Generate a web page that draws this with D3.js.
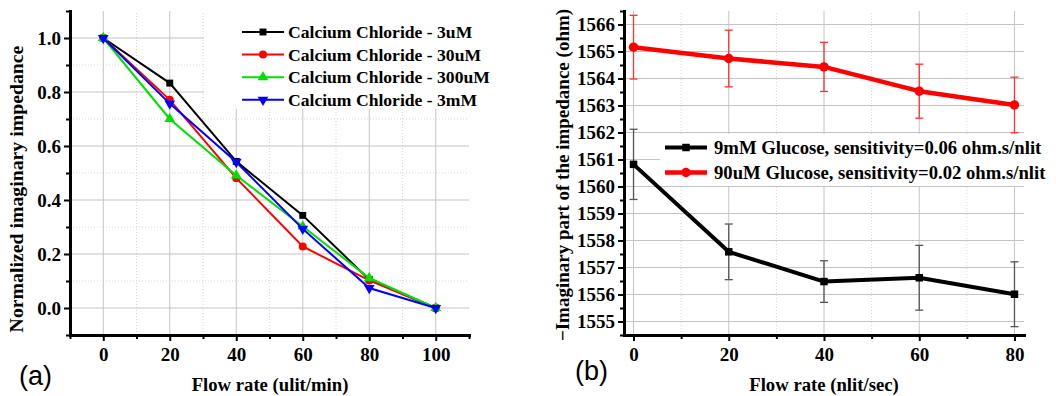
<!DOCTYPE html>
<html>
<head>
<meta charset="utf-8">
<script src="https://cdn.jsdelivr.net/npm/d3@7"></script>
<style>
  body { margin: 0; background: #fff; }
  svg { display: block; }
  text { font-family: "Liberation Serif", "Times New Roman", serif; font-weight: bold; fill: #000; }
  .panel-label { font-family: "Liberation Sans", Arial, sans-serif; font-weight: normal; }
  .grid-major { stroke: #c4c4c4; stroke-width: 1; }
  .grid-minor { stroke: #d6d6d6; stroke-width: 1; stroke-dasharray: 1,2; }
</style>
</head>
<body>
<div class="chart"></div>
<script>
// ---- data, panel (a) ----
const flowA = [0, 20, 40, 60, 80, 100];
const cacl3uM   = [1.0, 0.833, 0.543, 0.343, 0.105, 0.0];
const cacl30uM  = [1.0, 0.771, 0.481, 0.228, 0.102, 0.0];
const cacl300uM = [1.0, 0.700, 0.491, 0.302, 0.111, 0.0];
const cacl3mM   = [1.0, 0.757, 0.541, 0.293, 0.074, 0.0];
const namesA = ['Calcium Chloride - 3uM', 'Calcium Chloride - 30uM', 'Calcium Chloride - 300uM', 'Calcium Chloride - 3mM'];
const xTicksA = [0, 20, 40, 60, 80, 100];
const yTicksA = [0.0, 0.2, 0.4, 0.6, 0.8, 1.0];

// ---- data, panel (b) ----
const flowB = [0, 20, 40, 60, 80];
const glucose9mM     = [1560.82, 1557.58, 1556.48, 1556.62, 1556.01];
const glucose9mMErr  = [1.30, 1.03, 0.77, 1.20, 1.20];
const glucose90uM    = [1565.16, 1564.74, 1564.43, 1563.53, 1563.02];
const glucose90uMErr = [1.18, 1.05, 0.91, 1.00, 1.03];
const namesB = ['9mM Glucose, sensitivity=0.06 ohm.s/nlit', '90uM Glucose, sensitivity=0.02 ohm.s/nlit'];
const xTicksB = [0, 20, 40, 60, 80];
const yTicksB = [1555, 1556, 1557, 1558, 1559, 1560, 1561, 1562, 1563, 1564, 1565, 1566];

const svg = d3.select('.chart')
  .append('svg')
  .attr('width', 1056)
  .attr('height', 396);

const xA = d3.scaleLinear().domain([-10, 110]).range([70, 469]);
const yA = d3.scaleLinear().domain([-0.1, 1.1]).range([335, 11]);
const xB = d3.scaleLinear().domain([-2, 82]).range([624, 1024]);
const yB = d3.scaleLinear().domain([1554.5, 1566.5]).range([335, 11]);

// grid lines for one panel
function grid(x, y, xMaj, xMin, yMaj, yMin) {
  const g = svg.append('g');
  const [x0, x1] = x.range();
  const [y0, y1] = y.range();
  g.selectAll('.vmin').data(xMin).join('line').attr('class', 'grid-minor')
    .attr('x1', d => x(d)).attr('x2', d => x(d)).attr('y1', y0).attr('y2', y1);
  g.selectAll('.hmin').data(yMin).join('line').attr('class', 'grid-minor')
    .attr('y1', d => y(d)).attr('y2', d => y(d)).attr('x1', x0).attr('x2', x1);
  g.selectAll('.vmaj').data(xMaj).join('line').attr('class', 'grid-major')
    .attr('x1', d => x(d)).attr('x2', d => x(d)).attr('y1', y0).attr('y2', y1);
  g.selectAll('.hmaj').data(yMaj).join('line').attr('class', 'grid-major')
    .attr('y1', d => y(d)).attr('y2', d => y(d)).attr('x1', x0).attr('x2', x1);
}

// axes with major + minor ticks
function axes(x, y, xMaj, xMin, yMaj, yMin, yFmt) {
  const yBase = y.range()[0];
  const xBase = x.range()[0];

  const gx = svg.append('g').attr('transform', `translate(0,${yBase})`);
  gx.append('g').call(d3.axisBottom(x).tickValues(xMin).tickSize(4).tickSizeOuter(0).tickFormat(''));
  gx.append('g').call(d3.axisBottom(x).tickValues(xMaj).tickSize(6).tickSizeOuter(0).tickPadding(7).tickFormat(d3.format('d')));

  const gy = svg.append('g').attr('transform', `translate(${xBase},0)`);
  gy.append('g').call(d3.axisLeft(y).tickValues(yMin).tickSize(4).tickSizeOuter(0).tickFormat(''));
  gy.append('g').call(d3.axisLeft(y).tickValues(yMaj).tickSize(6).tickSizeOuter(0).tickPadding(3).tickFormat(yFmt));

  svg.selectAll('.domain').style('stroke-width', 3).style('stroke-linecap', 'square');
  svg.selectAll('.tick line').style('stroke-width', 2);
  svg.selectAll('.tick text').style('font-size', '19px').style('font-family', '"Liberation Serif", "Times New Roman", serif');
}

// markers
function marker(sel, type, size, color) {
  const sym = {
    square: d3.symbolSquare,
    circle: d3.symbolCircle,
    up: d3.symbolTriangle
  };
  if (type === 'down') {
    sel.append('path').attr('d', d3.symbol(d3.symbolTriangle, size)()).attr('transform', 'rotate(180)')
      .style('fill', color);
  } else {
    sel.append('path').attr('d', d3.symbol(sym[type], size)()).style('fill', color);
  }
}

// ================= panel (a) =================
grid(xA, yA, xTicksA, [10, 30, 50, 70, 90], yTicksA, [0.1, 0.3, 0.5, 0.7, 0.9]);

const seriesA = [
  { name: namesA[0], values: cacl3uM,   color: '#000000', shape: 'square', size: 48 },
  { name: namesA[1], values: cacl30uM,  color: '#ff0000', shape: 'circle', size: 50 },
  { name: namesA[2], values: cacl300uM, color: '#00e000', shape: 'up',     size: 50 },
  { name: namesA[3], values: cacl3mM,   color: '#0000ff', shape: 'down',   size: 50 }
];

// legend box covers the grid
svg.append('rect').attr('x', 204).attr('y', 11).attr('width', 265).attr('height', 98).style('fill', '#fff');

const lineA = d3.line().x((d, i) => xA(flowA[i])).y(d => yA(d));
seriesA.forEach(s => {
  svg.append('path').datum(s.values).attr('d', lineA)
    .style('fill', 'none').style('stroke', s.color).style('stroke-width', 2);
  s.values.forEach((v, i) => {
    const g = svg.append('g').attr('transform', `translate(${xA(flowA[i])},${yA(v)})`);
    marker(g, s.shape, s.size, s.color);
  });
});

// legend (a)
seriesA.forEach((s, i) => {
  const ly = 32 + i * 22.6;
  svg.append('line').attr('x1', 242).attr('x2', 284).attr('y1', ly).attr('y2', ly)
    .style('stroke', s.color).style('stroke-width', 2);
  const g = svg.append('g').attr('transform', `translate(263,${ly})`);
  marker(g, s.shape, s.size, s.color);
  svg.append('text').attr('x', 288).attr('y', ly + 6).style('font-size', '17.6px').text(s.name);
});

axes(xA, yA, xTicksA, d3.range(-10, 111, 20), yTicksA, [-0.1, 0.1, 0.3, 0.5, 0.7, 0.9, 1.1], d3.format('.1f'));

svg.append('text').attr('x', 270).attr('y', 391).attr('text-anchor', 'middle').style('font-size', '18.7px')
  .text('Flow rate (ulit/min)');
svg.append('text').attr('transform', 'translate(23,189) rotate(-90)').attr('text-anchor', 'middle').style('font-size', '19.8px')
  .text('Normalized imaginary impedance');
svg.append('text').attr('class', 'panel-label').attr('x', 19).attr('y', 385).style('font-size', '27px').text('(a)');

// ================= panel (b) =================
grid(xB, yB, xTicksB, [10, 30, 50, 70], yTicksB, []);

const seriesB = [
  { name: namesB[0], values: glucose9mM,  err: glucose9mMErr,  color: '#000000', errColor: '#555555', shape: 'square', size: 56, width: 4 },
  { name: namesB[1], values: glucose90uM, err: glucose90uMErr, color: '#ff0000', errColor: '#ff3030', shape: 'circle', size: 70, width: 4.5 }
];

// error bars
seriesB.forEach(s => {
  const g = svg.append('g').style('stroke', s.errColor).style('stroke-width', 1.3);
  s.values.forEach((v, i) => {
    const cx = xB(flowB[i]);
    const top = yB(v + s.err[i]);
    const bot = yB(v - s.err[i]);
    g.append('line').attr('x1', cx).attr('x2', cx).attr('y1', top).attr('y2', bot);
    g.append('line').attr('x1', cx - 4).attr('x2', cx + 4).attr('y1', top).attr('y2', top);
    g.append('line').attr('x1', cx - 4).attr('x2', cx + 4).attr('y1', bot).attr('y2', bot);
  });
});

const lineB = d3.line().x((d, i) => xB(flowB[i])).y(d => yB(d));
seriesB.forEach(s => {
  svg.append('path').datum(s.values).attr('d', lineB)
    .style('fill', 'none').style('stroke', s.color).style('stroke-width', s.width).style('stroke-linejoin', 'round');
  s.values.forEach((v, i) => {
    const g = svg.append('g').attr('transform', `translate(${xB(flowB[i])},${yB(v)})`);
    marker(g, s.shape, s.size, s.color);
  });
});

// legend (b)
svg.append('rect').attr('x', 660).attr('y', 134).attr('width', 364).attr('height', 52).style('fill', '#fff');
seriesB.forEach((s, i) => {
  const ly = 147.5 + i * 25;
  svg.append('line').attr('x1', 665).attr('x2', 707).attr('y1', ly).attr('y2', ly)
    .style('stroke', s.color).style('stroke-width', s.width);
  const g = svg.append('g').attr('transform', `translate(686,${ly})`);
  marker(g, s.shape, s.size, s.color);
  svg.append('text').attr('x', 714).attr('y', ly + 6.5).style('font-size', '18.7px').text(s.name);
});

axes(xB, yB, xTicksB, [10, 30, 50, 70], yTicksB, d3.range(1554.5, 1567, 1), d3.format('d'));

svg.append('text').attr('x', 824).attr('y', 391).attr('text-anchor', 'middle').style('font-size', '18.7px')
  .text('Flow rate (nlit/sec)');
svg.append('text').attr('transform', 'translate(569,175) rotate(-90)').attr('text-anchor', 'middle').style('font-size', '19px')
  .text('\u2212Imaginary part of the impedance (ohm)');
svg.append('text').attr('class', 'panel-label').attr('x', 575).attr('y', 380).style('font-size', '27px').text('(b)');
</script>
</body>
</html>
